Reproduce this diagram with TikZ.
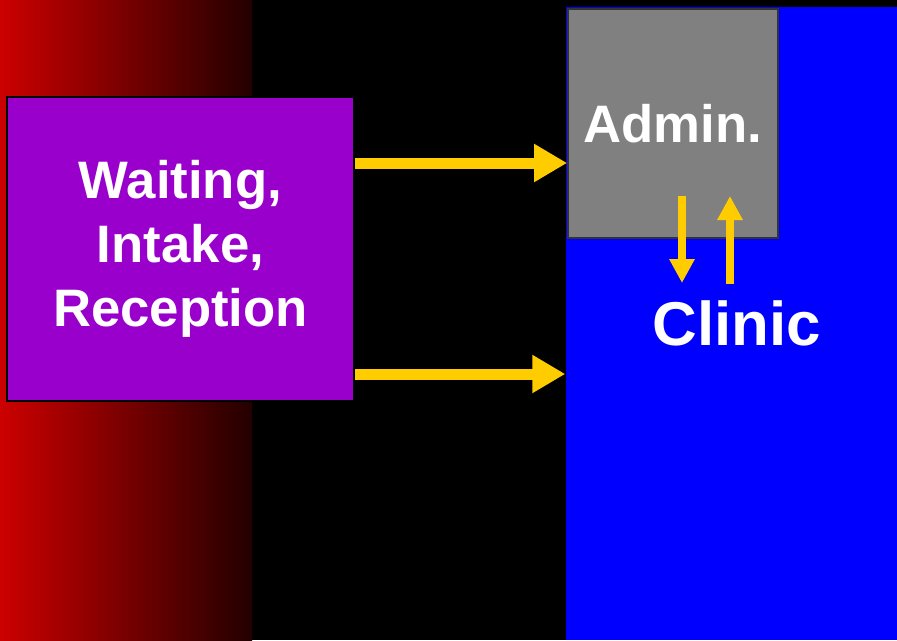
\documentclass[tikz,border=0pt]{standalone}
\usepackage{fontspec}
\setmainfont{Liberation Sans}
\usetikzlibrary{arrows.meta}
\definecolor{deepred}{RGB}{204,0,0}
\definecolor{waitpurple}{RGB}{153,0,204}
\definecolor{flowyellow}{RGB}{255,204,0}

\begin{document}
\begin{tikzpicture}[room/.style={inner sep=0pt, font=\bfseries\fontsize{15}{18.2}\selectfont, text=white, align=center},
        flow/.style={draw=flowyellow, line width=0.11cm, -{Triangle[length=0.33cm, width=0.36cm]}, flowyellow},
        smallflow/.style={draw=flowyellow, line width=0.077cm, -{Triangle[length=0.24cm, width=0.24cm]}, flowyellow}]
        \fill[black] (0,0) rectangle (8.97,6.4);
        \useasboundingbox (0,0) rectangle (8.97,6.4);
        \shade[left color=deepred, right color={rgb,255:red,35;green,0;blue,0}] (0,0) rectangle (2.52,6.4);

        \node[room, fill=blue, minimum width=3.31cm, minimum height=6.33cm, font=\bfseries\fontsize{17.6}{21}\selectfont] (clinic) at (7.315, 3.165) {\hspace*{0.11cm}Clinic};
        \node[room, fill=gray, draw=black!80, line width=0.5pt, minimum width=2.10cm, minimum height=2.29cm] (admin) at (6.73, 5.165) {Admin.};
        \node[room, fill=waitpurple, draw=black, line width=0.6pt, minimum width=3.47cm, minimum height=3.04cm] (wait) at (1.805, 3.91) {Waiting,\\Intake,\\Reception};

        \coordinate (out1) at ([yshift=0.86cm]wait.east);
        \coordinate (out2) at ([yshift=-1.25cm]wait.east);
        \coordinate (down1) at (6.82, 4.44);
        \coordinate (down2) at (6.82, 3.57);
        \coordinate (up1) at (7.30, 3.56);
        \coordinate (up2) at (7.30, 4.44);

        \draw[flow] (out1) -- (out1 -| admin.west);
        \draw[flow] (out2) -- (out2 -| clinic.west);
        \draw[smallflow] (down1) -- (down2);
        \draw[smallflow] (up1) -- (up2);
\end{tikzpicture}
\end{document}
